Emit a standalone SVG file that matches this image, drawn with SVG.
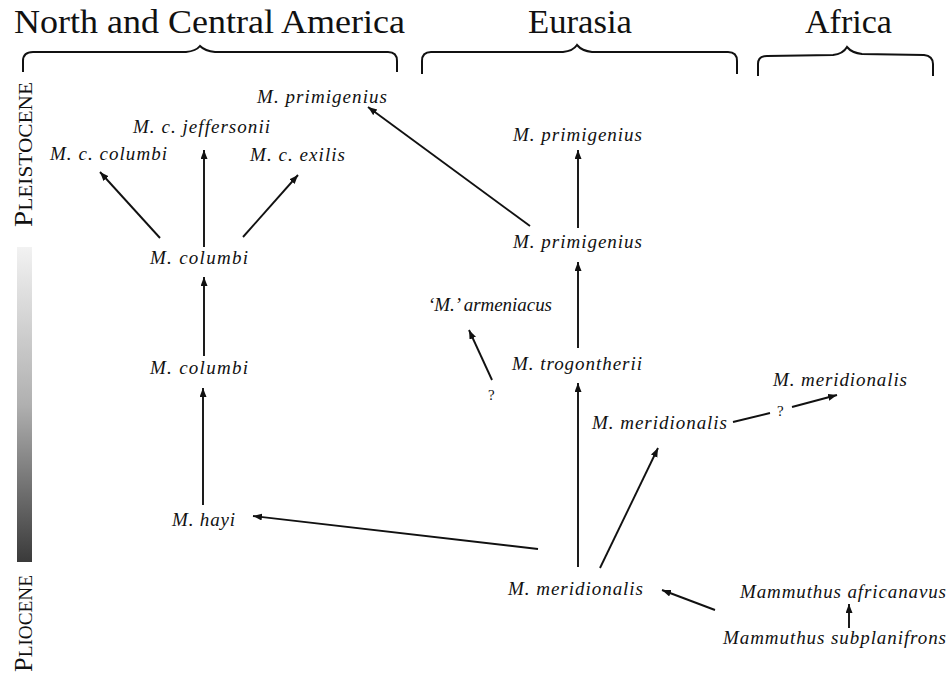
<svg xmlns="http://www.w3.org/2000/svg" width="949" height="677" viewBox="0 0 949 677">
<style>
.hdr{font-family:"Liberation Serif","Times New Roman",serif;font-size:33px;fill:#111}
.n{font-family:"Liberation Serif","Times New Roman",serif;font-style:italic;font-size:19px;fill:#111}
.q{font-family:"Liberation Serif","Times New Roman",serif;font-size:15px;fill:#111}
.ep{font-family:"Liberation Serif","Times New Roman",serif;fill:#111}
.br{fill:none;stroke:#111;stroke-width:2}
.c line{stroke:#111;stroke-width:1.9}
</style>
<defs>
<marker id="ah" markerUnits="userSpaceOnUse" markerWidth="10" markerHeight="8" refX="9" refY="3.5" orient="auto">
<path d="M0,0 L9,3.5 L0,7 z" fill="#111"/>
</marker>
<linearGradient id="g" x1="0" y1="0" x2="0" y2="1">
<stop offset="0" stop-color="#f2f2f2"/>
<stop offset="0.5" stop-color="#b0b0b0"/>
<stop offset="1" stop-color="#3a3a3a"/>
</linearGradient>
</defs>
<rect width="949" height="677" fill="#fff"/>

<g id="headers">
<text class="hdr" x="14" y="33" textLength="391" lengthAdjust="spacingAndGlyphs">North and Central America</text>
<text class="hdr" x="528" y="33" textLength="104" lengthAdjust="spacingAndGlyphs">Eurasia</text>
<text class="hdr" x="805" y="33" textLength="87" lengthAdjust="spacingAndGlyphs">Africa</text>
<path class="br" d="M23,72 L23,61 Q23,52 33,52 L186,52 Q196,51 200,46 Q205,51 215,52 L388,52 Q397,52 397,61 L397,72"/>
<path class="br" d="M422,74 L422,61 Q422,52 431,52 L563,52 Q573,51 577,45 Q582,51 592,52 L728,52 Q737,52 737,61 L737,74"/>
<path class="br" d="M758,76 L758,64 Q758,56 767,56 L833,55 Q843,54 847,47 Q852,53 862,54 L924,55 Q933,56 933,64 L933,76"/>
</g>

<g id="epochs">
<rect x="17" y="247" width="15" height="315" fill="url(#g)"/>
<text class="ep" transform="translate(32,227) rotate(-90)" textLength="145" lengthAdjust="spacingAndGlyphs"><tspan font-size="26">P</tspan><tspan font-size="19">LEISTOCENE</tspan></text>
<text class="ep" transform="translate(32,672) rotate(-90)" textLength="97" lengthAdjust="spacingAndGlyphs"><tspan font-size="26">P</tspan><tspan font-size="19">LIOCENE</tspan></text>
</g>

<g class="c" id="connectors">
<line x1="160" y1="238" x2="100" y2="172" marker-end="url(#ah)"/>
<line x1="204" y1="247" x2="204" y2="150" marker-end="url(#ah)"/>
<line x1="243" y1="237" x2="298" y2="175" marker-end="url(#ah)"/>
<line x1="204" y1="356" x2="204" y2="277" marker-end="url(#ah)"/>
<line x1="203" y1="505" x2="203" y2="388" marker-end="url(#ah)"/>
<line x1="530" y1="226" x2="368" y2="107" marker-end="url(#ah)"/>
<line x1="578" y1="228" x2="578" y2="150" marker-end="url(#ah)"/>
<line x1="578" y1="348" x2="578" y2="262" marker-end="url(#ah)"/>
<line x1="492" y1="380" x2="469" y2="330" marker-end="url(#ah)"/>
<line x1="578" y1="567" x2="578" y2="383" marker-end="url(#ah)"/>
<line x1="600" y1="568" x2="658" y2="448" marker-end="url(#ah)"/>
<line x1="538" y1="549" x2="253" y2="516" marker-end="url(#ah)"/>
<line x1="733" y1="422" x2="770" y2="413"/>
<line x1="792" y1="407" x2="837" y2="395" marker-end="url(#ah)"/>
<line x1="715" y1="610" x2="662" y2="590" marker-end="url(#ah)"/>
<line x1="849" y1="628" x2="849" y2="604" marker-end="url(#ah)"/>
</g>

<g id="n_prim_na"><text class="n" x="257" y="103" textLength="130" lengthAdjust="spacing">M. primigenius</text></g>
<g id="n_jeff"><text class="n" x="133" y="133" textLength="137" lengthAdjust="spacing">M. c. jeffersonii</text></g>
<g id="n_ccol"><text class="n" x="50" y="160" textLength="117" lengthAdjust="spacing">M. c. columbi</text></g>
<g id="n_exilis"><text class="n" x="250" y="161" textLength="95" lengthAdjust="spacing">M. c. exilis</text></g>
<g id="n_col1"><text class="n" x="150" y="264" textLength="98" lengthAdjust="spacing">M. columbi</text></g>
<g id="n_col2"><text class="n" x="150" y="374" textLength="98" lengthAdjust="spacing">M. columbi</text></g>
<g id="n_hayi"><text class="n" x="172" y="526" textLength="63" lengthAdjust="spacing">M. hayi</text></g>
<g id="n_prim_eu1"><text class="n" x="513" y="141" textLength="129" lengthAdjust="spacing">M. primigenius</text></g>
<g id="n_prim_eu2"><text class="n" x="513" y="248" textLength="129" lengthAdjust="spacing">M. primigenius</text></g>
<g id="n_arm"><text class="n" x="428" y="311" textLength="124" lengthAdjust="spacing">‘M.’ armeniacus</text></g>
<g id="q1"><text class="q" x="488" y="400">?</text></g>
<g id="n_trog"><text class="n" x="512" y="370" textLength="130" lengthAdjust="spacing">M. trogontherii</text></g>
<g id="n_mer2"><text class="n" x="592" y="429" textLength="135" lengthAdjust="spacing">M. meridionalis</text></g>
<g id="q2"><text class="q" x="777" y="416">?</text></g>
<g id="n_mer_af"><text class="n" x="773" y="386" textLength="134" lengthAdjust="spacing">M. meridionalis</text></g>
<g id="n_mer1"><text class="n" x="508" y="595" textLength="135" lengthAdjust="spacing">M. meridionalis</text></g>
<g id="n_afr"><text class="n" x="740" y="598" textLength="206" lengthAdjust="spacing">Mammuthus africanavus</text></g>
<g id="n_sub"><text class="n" x="723" y="644" textLength="223" lengthAdjust="spacing">Mammuthus subplanifrons</text></g>
</svg>
